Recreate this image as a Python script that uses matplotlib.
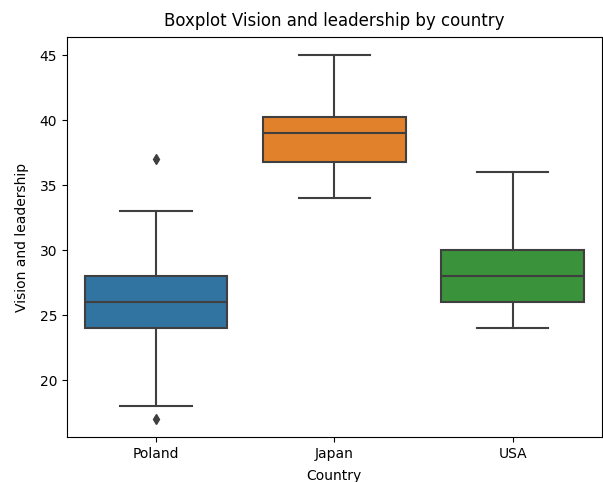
import matplotlib
matplotlib.use("Agg")
import matplotlib.pyplot as plt

# data
countries = ["Poland", "Japan", "USA"]
whisker_low = [18, 34, 24]
q1 = [24, 36.75, 26]
median = [26, 39, 28]
q3 = [28, 40.25, 30]
whisker_high = [33, 45, 36]
outliers = [[37, 17], [], []]

colors = ["#3274a1", "#e1812c", "#3a923a"]
gray = "#3f3f3f"

stats = []
for i, name in enumerate(countries):
    stats.append({
        "label": name,
        "whislo": whisker_low[i],
        "q1": q1[i],
        "med": median[i],
        "q3": q3[i],
        "whishi": whisker_high[i],
        "fliers": outliers[i],
    })

fig = plt.figure(figsize=(6.03, 4.82), dpi=100)
ax = fig.add_axes([0.111, 0.093, 0.887, 0.830])

bp = ax.bxp(stats, positions=range(len(countries)), widths=0.8,
            patch_artist=True, showfliers=True,
            boxprops=dict(edgecolor=gray, linewidth=1.5),
            medianprops=dict(color=gray, linewidth=1.5),
            whiskerprops=dict(color=gray, linewidth=1.5),
            capprops=dict(color=gray, linewidth=1.5),
            flierprops=dict(marker="d", markerfacecolor=gray, markeredgecolor=gray,
                            markersize=5, linestyle="none"))
for patch, c in zip(bp["boxes"], colors):
    patch.set_facecolor(c)

ax.set_xlim(-0.5, len(countries) - 0.5)
ax.set_xticks(range(len(countries)))
ax.set_xticklabels(countries)
ax.set_yticks([20, 25, 30, 35, 40, 45])
ax.set_ylim(15.6, 46.4)
ax.set_xlabel("Country", labelpad=6)
ax.set_ylabel("Vision and leadership", labelpad=7.5)
ax.set_title("Boxplot Vision and leadership by country", pad=8)

fig.savefig("out.png", dpi=100)
